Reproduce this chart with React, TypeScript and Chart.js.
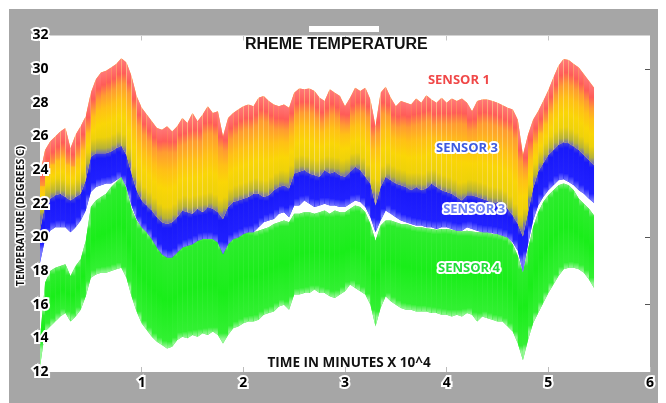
import { useEffect, useRef } from "react";
import { Chart, registerables } from "chart.js";

Chart.register(...registerables);

// ---------- data ----------
const TIME = [
  0.0, 0.05, 0.1, 0.15, 0.2, 0.25, 0.3, 0.35, 0.4, 0.45,
  0.5, 0.55, 0.6, 0.65, 0.7, 0.75, 0.8, 0.85, 0.9, 0.95,
  1.0, 1.05, 1.1, 1.15, 1.2, 1.25, 1.3, 1.35, 1.4, 1.45,
  1.5, 1.55, 1.6, 1.65, 1.7, 1.75, 1.8, 1.85, 1.9, 1.95,
  2.0, 2.05, 2.1, 2.15, 2.2, 2.25, 2.3, 2.35, 2.4, 2.45,
  2.5, 2.55, 2.6, 2.65, 2.7, 2.75, 2.8, 2.85, 2.9, 2.95,
  3.0, 3.05, 3.1, 3.15, 3.2, 3.25, 3.3, 3.35, 3.4, 3.45,
  3.5, 3.55, 3.6, 3.65, 3.7, 3.75, 3.8, 3.85, 3.9, 3.95,
  4.0, 4.05, 4.1, 4.15, 4.2, 4.25, 4.3, 4.35, 4.4, 4.45,
  4.5, 4.55, 4.6, 4.65, 4.7, 4.75, 4.8, 4.85, 4.9, 4.95,
  5.0, 5.05, 5.1, 5.15, 5.2, 5.25, 5.3, 5.35, 5.4, 5.45,
];

// Sensor 1 (upper envelope of the red / yellow band)
const SENSOR1_TOP = [
  23.8, 25.2, 25.7, 26.0, 26.3, 26.5, 25.3, 26.1, 26.6, 27.2,
  28.6, 29.4, 29.8, 29.9, 30.1, 30.3, 30.65, 30.4, 29.6, 28.4,
  27.7, 27.3, 26.9, 26.5, 26.4, 26.6, 26.3, 26.6, 27.1, 26.8,
  27.4, 26.9, 27.3, 27.8, 27.4, 27.5, 26.0, 27.1, 27.4, 27.6,
  27.8, 27.9, 27.8, 28.3, 28.4, 28.1, 27.9, 27.8, 27.9, 27.7,
  28.6, 28.85, 28.8, 28.85, 28.7, 28.3, 28.1, 28.8, 28.6, 28.4,
  27.8, 28.3, 28.9, 28.7, 28.9, 28.2, 26.6, 28.6, 28.95, 28.3,
  27.8, 28.1, 28.0, 27.9, 28.25, 28.0, 28.45, 28.2, 28.0, 28.3,
  28.0, 28.25, 28.1, 28.25, 28.0, 27.5, 28.1, 28.2, 28.2, 28.1,
  28.0, 27.85, 27.7, 27.6, 27.0, 24.9, 26.1, 27.0, 27.5, 28.1,
  28.75, 29.5, 30.2, 30.6, 30.55, 30.3, 30.1, 29.7, 29.3, 28.9,
];

// Sensor 3 (blue band) upper and lower envelopes
const SENSOR3_TOP = [
  20.4, 22.0, 22.3, 22.5, 22.6, 22.4, 22.2, 22.4, 22.6, 23.4,
  24.8, 25.0, 25.0, 25.0, 25.1, 25.3, 25.45, 24.9, 23.8, 22.8,
  22.2, 21.9, 21.6, 21.2, 20.9, 20.8, 20.9, 21.2, 21.6, 21.5,
  21.4, 21.7, 21.5, 21.8, 21.7, 21.5, 21.1, 21.8, 22.1, 22.2,
  22.3, 22.4, 22.6, 22.6, 22.4, 22.5, 22.8, 23.0, 23.1, 22.9,
  23.8, 23.9, 24.0, 23.8, 23.7, 23.6, 24.0, 23.8, 23.9, 23.7,
  23.6, 23.9, 24.2, 24.0, 23.6, 23.2, 21.9, 23.0, 23.6, 23.4,
  23.2, 23.1, 23.0, 22.8, 23.0, 22.8, 22.9, 23.2, 23.0, 22.8,
  22.7, 22.6, 22.4, 22.2, 22.5, 22.5, 22.4, 22.3, 22.2, 22.0,
  22.1, 21.9, 21.7, 21.3, 20.8, 20.05, 21.5, 22.9, 23.9, 24.4,
  24.9, 25.2, 25.5, 25.65, 25.6, 25.4, 25.2, 24.9, 24.6, 24.3,
];

const SENSOR3_BOTTOM = [
  18.5, 19.9, 20.4, 20.6, 20.6, 20.6, 20.3, 20.6, 21.0, 21.6,
  22.7, 23.0, 23.1, 23.2, 23.2, 23.4, 23.6, 23.0, 21.9, 21.1,
  20.6, 20.3, 19.9, 19.4, 19.0, 18.8, 18.8, 19.1, 19.4, 19.5,
  19.6, 19.8, 19.9, 19.9, 19.9, 19.7, 19.0, 19.6, 19.9, 20.0,
  20.2, 20.3, 20.3, 20.6, 20.9, 21.0, 21.1, 21.4, 21.5, 21.2,
  21.9, 21.9, 22.2, 22.0, 21.8, 21.9, 22.0, 21.9, 21.9, 21.8,
  21.8, 22.0, 22.2, 22.1, 21.8, 21.2, 20.3, 21.0, 21.6, 21.4,
  21.2, 21.0, 20.9, 20.8, 20.7, 20.7, 20.6, 20.6, 20.5, 20.6,
  20.6, 20.5, 20.4, 20.4, 20.6, 20.5, 20.4, 20.3, 20.3, 20.25,
  20.2, 20.1, 20.0, 19.7, 19.2, 17.95, 19.6, 21.0, 21.9, 22.4,
  22.8, 23.1, 23.4, 23.45, 23.3, 23.1, 22.8, 22.6, 22.3, 22.05,
];

// Sensor 4 (green band) upper and lower envelopes
const SENSOR4_TOP = [
  14.0, 17.3, 18.0, 18.2, 18.3, 18.4, 17.7, 18.3, 18.7, 19.8,
  21.8, 22.2, 22.4, 22.6, 23.0, 23.3, 23.6, 22.9, 21.7, 21.0,
  20.6, 20.3, 20.0, 19.6, 19.2, 19.0, 19.0, 19.3, 19.6, 19.7,
  19.8, 20.0, 20.1, 20.1, 20.1, 19.9, 19.2, 19.8, 20.1, 20.2,
  20.4, 20.5, 20.3, 20.4, 20.5, 20.6, 20.8, 20.9, 21.0, 20.9,
  21.4, 21.4, 21.5, 21.5, 21.4, 21.5, 21.6, 21.4, 21.6, 21.5,
  21.5, 21.7, 21.9, 21.8, 21.5, 20.8, 19.8, 20.7, 21.0, 21.0,
  20.9, 20.8, 20.8, 20.7, 20.6, 20.6, 20.55, 20.5, 20.45, 20.5,
  20.5, 20.45, 20.4, 20.35, 20.4, 20.35, 20.3, 20.3, 20.3, 20.2,
  20.2, 20.1, 20.0, 19.6, 18.9, 17.9, 19.3, 20.6, 21.5, 22.1,
  22.5, 22.8, 23.1, 23.2, 23.1, 22.8, 22.3, 22.0, 21.7, 21.3,
];

const SENSOR4_BOTTOM = [
  12.3, 14.4, 14.7, 15.0, 15.3, 15.5, 15.0, 15.3, 15.7, 16.5,
  17.6, 17.8, 17.9, 17.9, 18.0, 18.1, 18.2, 17.6, 16.5, 15.6,
  14.9, 14.5, 14.1, 13.8, 13.6, 13.4, 13.5, 13.9, 14.1, 14.0,
  14.2, 14.1, 14.3, 14.2, 14.4, 14.2, 13.7, 14.2, 14.6, 14.7,
  14.9, 15.0, 15.0, 15.1, 15.4, 15.5, 15.6, 15.9, 16.0, 15.7,
  16.6, 16.6, 16.7, 16.7, 16.9, 16.7, 16.7, 16.5, 16.4, 16.6,
  16.8, 17.2, 17.0, 16.8, 16.6, 16.0, 14.7, 15.8, 16.5, 16.2,
  16.0, 15.8, 15.7, 15.7, 15.6, 15.6, 15.6, 15.5, 15.5, 15.4,
  15.4, 15.3, 15.4, 15.3, 15.5, 15.4, 15.0, 15.3, 15.2, 15.1,
  15.0, 15.0, 14.7, 14.4, 13.7, 12.7, 13.9, 14.9, 15.5, 16.1,
  16.7, 17.2, 17.7, 18.1, 18.2, 18.2, 18.1, 17.9, 17.5, 17.0,
];

const Y_TICKS = [12, 14, 16, 18, 20, 22, 24, 26, 28, 30, 32];
const X_TICKS = [0, 1, 2, 3, 4, 5, 6];
const TOP_TICKS = [1, 2, 3, 4, 5];
const RIGHT_TICKS = [30, 20, 16];

const TITLE = "RHEME TEMPERATURE";
const X_TITLE = "TIME IN MINUTES X 10^4";
const Y_TITLE = "TEMPERATURE (DEGREES C)";

const SENSOR_LABELS = [
  { text: "SENSOR 1", x: 4.12, y: 29.35, color: "#f04848" },
  { text: "SENSOR 3", x: 4.2, y: 25.31, color: "#3d5ae0" },
  { text: "SENSOR 3", x: 4.27, y: 21.69, color: "#6f82f5" },
  { text: "SENSOR 4", x: 4.22, y: 18.18, color: "#22dd3a" },
];

// ---------- styling helpers ----------
const FONT = "'Open Sans', 'DejaVu Sans', sans-serif";
type Stop = [number, string];

function bandFill(lower: number[], stops: (h: number) => Stop[], fallback: string) {
  return (c: any) => {
    const chart = c.chart;
    const p0 = c.p0;
    const p1 = c.p1;
    const ys = chart && chart.scales ? chart.scales.y : null;
    if (!p0 || !p1 || !ys) return fallback;
    const top = (p0.y + p1.y) / 2;
    const bottom =
      (ys.getPixelForValue(lower[c.p0DataIndex]) + ys.getPixelForValue(lower[c.p1DataIndex])) / 2;
    if (!isFinite(top) || !isFinite(bottom) || bottom - top < 1) return fallback;
    const h = bottom - top;
    const g = chart.ctx.createLinearGradient(0, top, 0, bottom);
    for (const [px, col] of stops(h)) {
      g.addColorStop(Math.max(0, Math.min(1, px / h)), col);
    }
    return g;
  };
}

const upperStops = (h: number): Stop[] => [
  [0, "rgb(255,120,120)"],
  [13, "rgb(255,92,88)"],
  [24, "rgb(255,155,50)"],
  [0.45 * h, "rgb(255,192,22)"],
  [0.64 * h, "rgb(250,214,6)"],
  [h - 16, "rgb(238,210,10)"],
  [h - 5, "rgb(182,178,55)"],
  [h, "rgb(120,120,170)"],
];
const blueStops = (h: number): Stop[] => [
  [0, "rgb(70,70,215)"],
  [5, "rgb(25,25,250)"],
  [h - 7, "rgb(32,32,255)"],
  [h, "rgb(120,120,255)"],
];
const greenStops = (h: number): Stop[] => [
  [0, "rgb(120,240,120)"],
  [5, "rgb(45,236,45)"],
  [h / 2, "rgb(25,238,25)"],
  [h - 6, "rgb(50,240,50)"],
  [h, "rgb(150,246,150)"],
];

function drawText(
  ctx: CanvasRenderingContext2D,
  text: string,
  x: number,
  y: number,
  font: string,
  fill: string,
  stroke?: string,
  strokeWidth = 0
) {
  ctx.font = font;
  ctx.textAlign = "center";
  ctx.textBaseline = "middle";
  if (stroke && strokeWidth > 0) {
    ctx.lineJoin = "round";
    ctx.lineWidth = strokeWidth;
    ctx.strokeStyle = stroke;
    ctx.strokeText(text, x, y);
  }
  ctx.fillStyle = fill;
  ctx.fillText(text, x, y);
}

const decor = {
  id: "decor",
  beforeDraw(chart: any) {
    const { ctx, chartArea: a } = chart;
    ctx.save();
    ctx.fillStyle = "#ffffff";
    ctx.fillRect(a.left, a.top, a.right - a.left, a.bottom - a.top);
    ctx.fillRect(300, 17, 70, 6);
    ctx.restore();
  },
  afterDraw(chart: any) {
    const { ctx, chartArea: a } = chart;
    const xs = chart.scales.x;
    const ys = chart.scales.y;
    ctx.save();
    drawText(ctx, TITLE, xs.getPixelForValue(2.915), ys.getPixelForValue(31.44),
      "bold 16px 'Liberation Sans', Arial, sans-serif", "#111");
    drawText(ctx, X_TITLE, xs.getPixelForValue(3.04), ys.getPixelForValue(12.55),
      `bold 13.5px ${FONT}`, "#111");
    ctx.save();
    ctx.translate(a.left - 19, ys.getPixelForValue(21.27));
    ctx.rotate(-Math.PI / 2);
    drawText(ctx, Y_TITLE, 0, 0, `bold 10.5px ${FONT}`, "#111", "#fff", 3);
    ctx.restore();
    for (const l of SENSOR_LABELS) {
      drawText(ctx, l.text, xs.getPixelForValue(l.x), ys.getPixelForValue(l.y),
        `bold 13px ${FONT}`, l.color, "#fff", 4);
    }
    ctx.restore();
  },
};

export default function App() {
  const ref = useRef<HTMLCanvasElement>(null);

  useEffect(() => {
    document.documentElement.style.overflow = "hidden";
    document.body.style.overflow = "hidden";
    const canvas = ref.current;
    if (!canvas) return;
    const pts = (arr: number[]) => TIME.map((t, i) => ({ x: t, y: arr[i] }));
    const base = { borderWidth: 0, pointRadius: 0, pointHitRadius: 0, tension: 0 };
    const tickFont = { family: FONT, size: 14, weight: "bold" as const };

    const chart = new Chart(canvas, {
      type: "line",
      data: {
        datasets: [
          // 0: sensor 1/2 band, shaded
          {
            ...base,
            label: "SENSOR 1",
            data: pts(SENSOR1_TOP),
            fill: 2,
            backgroundColor: "rgb(250,200,20)",
            segment: { backgroundColor: bandFill(SENSOR3_TOP, upperStops, "rgb(250,200,20)") },
          },
          // 1: sensor 1/2 band, base colour under the shading
          { ...base, label: "SENSOR 1 base", data: pts(SENSOR1_TOP), fill: 2, backgroundColor: "rgb(252,196,30)" },
          // 2: sensor 3 band, shaded
          {
            ...base,
            label: "SENSOR 3",
            data: pts(SENSOR3_TOP),
            fill: 4,
            backgroundColor: "rgb(30,30,250)",
            segment: { backgroundColor: bandFill(SENSOR3_BOTTOM, blueStops, "rgb(30,30,250)") },
          },
          // 3: sensor 3 band, base
          { ...base, label: "SENSOR 3 base", data: pts(SENSOR3_TOP), fill: 4, backgroundColor: "rgb(40,40,245)" },
          // 4: sensor 3 lower edge
          { ...base, label: "SENSOR 3 low", data: pts(SENSOR3_BOTTOM), fill: false },
          // 5: sensor 4 band, shaded
          {
            ...base,
            label: "SENSOR 4",
            data: pts(SENSOR4_TOP),
            fill: 7,
            backgroundColor: "rgb(30,238,30)",
            segment: { backgroundColor: bandFill(SENSOR4_BOTTOM, greenStops, "rgb(30,238,30)") },
          },
          // 6: sensor 4 band, base
          { ...base, label: "SENSOR 4 base", data: pts(SENSOR4_TOP), fill: 7, backgroundColor: "rgb(60,238,60)" },
          // 7: sensor 4 lower edge
          { ...base, label: "SENSOR 4 low", data: pts(SENSOR4_BOTTOM), fill: false },
        ],
      } as any,
      options: {
        responsive: false,
        animation: false,
        devicePixelRatio: 1,
        events: [],
        layout: { padding: { top: 26.5, left: 0, right: 0, bottom: 0 } },
        plugins: {
          legend: { display: false },
          tooltip: { enabled: false },
          title: { display: false },
        },
        scales: {
          x: {
            type: "linear",
            position: "bottom",
            min: 0,
            max: 6,
            afterBuildTicks: (s: any) => {
              s.ticks = X_TICKS.map((v) => ({ value: v }));
            },
            afterFit: (s: any) => {
              s.height = 31;
            },
            border: { display: false },
            grid: { display: true, drawOnChartArea: false, drawTicks: true, tickLength: -5, color: "#bdbdbd", z: 1 },
            ticks: {
              z: 1,
              autoSkip: false,
              maxRotation: 0,
              padding: 7.6,
              font: tickFont,
              color: "#000",
              textStrokeColor: "#fff",
              textStrokeWidth: 4,
              callback: (v: any) => (Number(v) === 0 ? "" : String(v)),
            },
          },
          x2: {
            type: "linear",
            position: "top",
            min: 0,
            max: 6,
            afterBuildTicks: (s: any) => {
              s.ticks = TOP_TICKS.map((v) => ({ value: v }));
            },
            afterFit: (s: any) => {
              s.height = 0;
            },
            border: { display: false },
            grid: { display: true, drawOnChartArea: false, drawTicks: true, tickLength: -5, color: "#c4c4c4" },
            ticks: { display: false },
          },
          y: {
            type: "linear",
            position: "left",
            min: 12,
            max: 32,
            afterBuildTicks: (s: any) => {
              s.ticks = Y_TICKS.map((v) => ({ value: v }));
            },
            afterFit: (s: any) => {
              s.width = 31;
            },
            border: { display: false },
            grid: { display: false, drawTicks: false },
            ticks: {
              z: 1,
              autoSkip: false,
              mirror: true,
              crossAlign: "center",
              padding: -7.5,
              font: tickFont,
              color: "#000",
              textStrokeColor: "#fff",
              textStrokeWidth: 4,
            },
          },
          y2: {
            type: "linear",
            position: "right",
            min: 12,
            max: 32,
            afterBuildTicks: (s: any) => {
              s.ticks = RIGHT_TICKS.map((v) => ({ value: v }));
            },
            afterFit: (s: any) => {
              s.width = 16;
            },
            border: { display: false },
            grid: { display: true, drawOnChartArea: false, drawTicks: true, tickLength: -5, color: "#555555" },
            ticks: { display: false },
          },
        },
      } as any,
      plugins: [decor],
    });

    let alive = true;
    if ((document as any).fonts && (document as any).fonts.ready) {
      (document as any).fonts.ready.then(() => {
        if (alive) chart.draw();
      });
    }
    return () => {
      alive = false;
      chart.destroy();
    };
  }, []);

  return (
    <div style={{ paddingTop: 1, paddingLeft: 1 }}>
      <canvas
        ref={ref}
        width={657}
        height={394}
        style={{ display: "block", width: 657, height: 394, background: "#a6a6a6" }}
      />
    </div>
  );
}
